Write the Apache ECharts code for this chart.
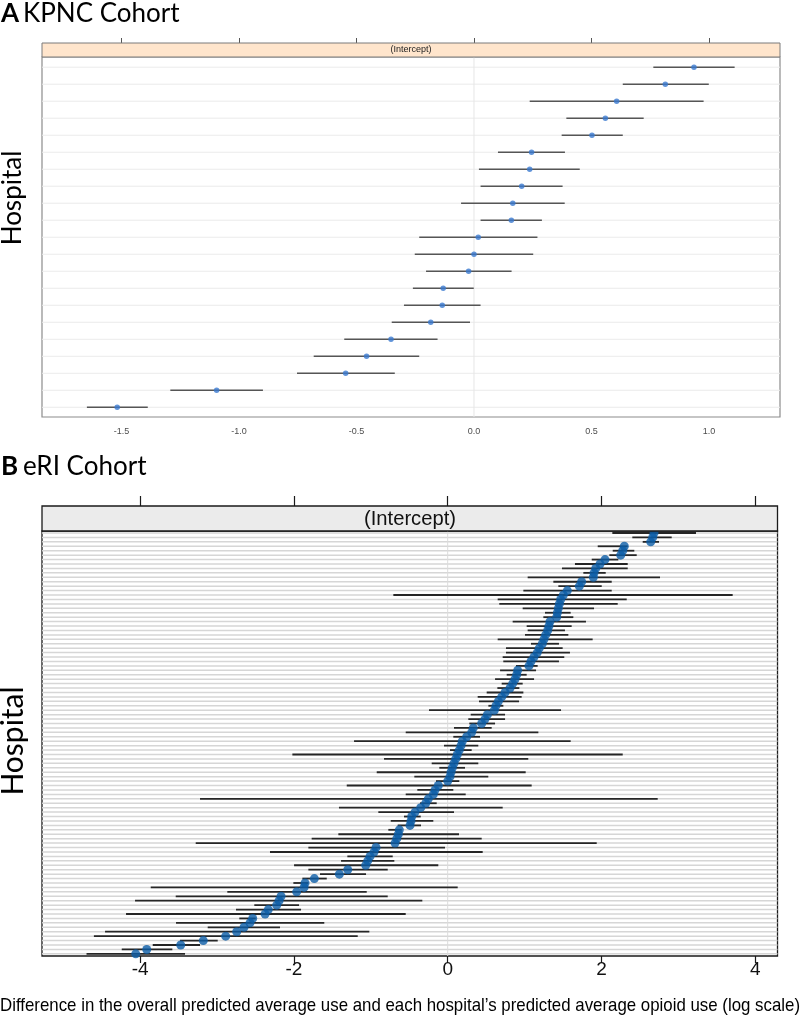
<!DOCTYPE html>
<html><head><meta charset="utf-8">
<script src="https://cdn.jsdelivr.net/npm/echarts@6/dist/echarts.min.js"></script>
<style>html,body{margin:0;padding:0;background:#fff}#c{width:800px;height:1019px}</style>
</head><body><div id="c"></div>
<script>
// Panel A: KPNC cohort (top to bottom)
const kpncEst  = [0.936,0.814,0.607,0.559,0.502,0.245,0.237,0.203,0.165,0.159,0.018,0.000,-0.023,-0.131,-0.135,-0.184,-0.353,-0.457,-0.546,-1.095,-1.518];
const kpncLow  = [0.763,0.633,0.237,0.393,0.373,0.102,0.021,0.028,-0.055,0.028,-0.233,-0.252,-0.204,-0.260,-0.298,-0.350,-0.552,-0.682,-0.753,-1.292,-1.647];
const kpncHigh = [1.109,0.999,0.977,0.722,0.633,0.387,0.450,0.377,0.386,0.289,0.270,0.252,0.160,-0.001,0.028,-0.017,-0.155,-0.233,-0.337,-0.898,-1.388];
const kpncTicks = [-1.5,-1.0,-0.5,0.0,0.5,1.0];

// Panel B: eRI cohort (top to bottom)
const eriEst = [2.683,2.666,2.640,2.297,2.276,2.250,2.046,1.981,1.925,1.903,1.894,1.742,1.712,1.556,1.504,1.469,1.452,1.439,1.426,1.417,
1.330,1.317,1.300,1.274,1.252,1.230,1.191,1.165,1.122,1.083,1.057,0.910,0.897,0.875,0.845,0.811,0.746,0.702,0.659,0.628,
0.607,0.516,0.485,0.442,0.333,0.312,0.247,0.190,0.173,0.151,0.125,0.104,0.082,0.060,0.043,0.030,0.000,-0.122,-0.165,-0.187,
-0.252,-0.286,-0.351,-0.425,-0.468,-0.477,-0.490,-0.629,-0.642,-0.663,-0.685,-0.932,-0.958,-1.010,-1.040,-1.066,-1.300,-1.409,-1.734,-1.855,
-1.868,-1.964,-2.167,-2.193,-2.224,-2.333,-2.375,-2.536,-2.571,-2.649,-2.744,-2.887,-3.178,-3.472,-3.914,-4.057];
const eriLow = [2.141,2.401,2.536,1.951,2.146,2.102,1.873,1.655,1.486,1.764,1.040,1.374,1.439,0.984,-0.707,0.650,0.671,0.975,1.265,1.244,
0.845,1.027,1.040,1.005,0.650,1.083,0.758,0.758,0.715,0.723,0.888,0.681,0.767,0.616,0.702,0.646,0.507,0.390,0.407,0.529,
-0.243,0.299,0.268,0.281,0.082,-0.546,0.073,-1.218,-0.048,0.030,-2.020,-0.828,-0.208,-0.109,-0.923,-0.434,-0.152,-1.313,-0.395,-0.546,
-3.221,-0.360,-1.414,-0.902,-0.568,-0.741,-0.650,-0.772,-1.422,-1.769,-3.277,-1.812,-2.311,-1.305,-1.387,-1.998,-1.812,-1.661,-1.890,-2.007,
-3.862,-2.866,-3.537,-4.066,-2.515,-2.753,-4.183,-2.710,-3.533,-3.121,-4.456,-4.601,-3.481,-3.836,-4.239,-4.697];
const eriHigh = [3.229,2.913,2.748,2.341,2.427,2.458,2.219,2.341,2.341,2.055,2.761,2.133,2.003,2.133,3.706,2.328,2.211,1.903,1.599,1.634,
1.798,1.612,1.525,1.569,1.885,1.447,1.495,1.590,1.516,1.447,1.170,1.149,1.027,1.123,0.975,0.932,0.984,0.962,0.928,0.724,
1.474,0.746,0.746,0.616,0.572,1.179,0.420,1.599,0.398,0.312,2.276,1.048,0.398,0.225,1.014,0.528,0.151,1.092,0.073,0.234,
2.731,-0.143,0.715,0.082,-0.351,-0.187,-0.347,-0.598,0.147,0.442,1.938,-0.035,0.455,-0.715,-0.694,-0.122,-0.780,-1.062,-1.573,-1.812,
0.130,-1.053,-0.780,-0.330,-1.933,-1.907,-0.546,-2.497,-1.605,-2.181,-1.019,-1.170,-2.991,-3.221,-3.581,-3.416];
const eriTicks = [-4,-2,0,2,4];

const SANS = "'Liberation Sans',Arial,sans-serif";
const HUM = "Lato,'Open Sans',sans-serif";
const xTitle = 'Difference in the overall predicted average use and each hospital\u2019s predicted average opioid use (log scale)';

const aYmin = -0.6, aYmax = 20.57;
const bYmin = -0.45, bYmax = 95.48;

const mctx = document.createElement('canvas').getContext('2d');
function fitScale(text, font, target){ mctx.font = font; return target / mctx.measureText(text).width; }

function rows(n){ const r=[]; for(let i=0;i<n;i++) r.push([0,i]); return r; }
function gridItem(color,width){
  return function(params, api){
    const cs = params.coordSys;
    const p = api.coord([api.value(0), api.value(1)]);
    return {type:'line', shape:{x1:cs.x, y1:p[1], x2:cs.x+cs.width, y2:p[1]}, style:{stroke:color, lineWidth:width}};
  };
}
function barItem(color,width){
  return function(params, api){
    const y = api.value(2);
    const p1 = api.coord([api.value(0), y]);
    const p2 = api.coord([api.value(1), y]);
    return {type:'line', shape:{x1:p1[0],y1:p1[1],x2:p2[0],y2:p2[1]}, style:{stroke:color, lineWidth:width}};
  };
}

const titleFont = "19px " + SANS;
const titleScale = fitScale(xTitle, titleFont, 800);
const stripFontB = "20px " + SANS;
const stripScaleB = fitScale('(Intercept)', stripFontB, 92);

const chart = echarts.init(document.getElementById('c'), null, {renderer:'canvas'});
chart.setOption({
  animation:false,
  backgroundColor:'#fff',
  grid:[
    {left:42, top:57, width:738, height:360, show:true, borderColor:'#8c8c8c', borderWidth:1.2, containLabel:false},
    {left:42, top:531, width:735.5, height:425, show:true, borderColor:'#1a1a1a', borderWidth:1.3, containLabel:false}
  ],
  xAxis:[
    {gridIndex:0, type:'value', position:'bottom', min:-1.838, max:1.302,
      axisLine:{show:false, onZero:false}, splitLine:{show:false}, axisTick:{show:false},
      axisLabel:{customValues:kpncTicks, formatter:v=>v.toFixed(1), fontSize:9, color:'#4d4d4d', margin:10, fontFamily:SANS}},
    {gridIndex:0, type:'value', position:'top', offset:14, min:-1.838, max:1.302,
      axisLine:{show:false, onZero:false}, splitLine:{show:false},
      axisTick:{show:true, customValues:kpncTicks, length:5, lineStyle:{color:'#555', width:1}},
      axisLabel:{show:false}},
    {gridIndex:1, type:'value', position:'bottom', min:-5.276, max:4.289,
      axisLine:{show:false, onZero:false}, splitLine:{show:false},
      axisTick:{show:true, customValues:eriTicks, length:7, lineStyle:{color:'#1a1a1a', width:1.2}},
      axisLabel:{customValues:eriTicks, fontSize:19, color:'#111', margin:4, fontFamily:SANS}},
    {gridIndex:1, type:'value', position:'top', offset:25, min:-5.276, max:4.289,
      axisLine:{show:false, onZero:false}, splitLine:{show:false},
      axisTick:{show:true, customValues:eriTicks, length:10, lineStyle:{color:'#1a1a1a', width:1.2}},
      axisLabel:{show:false}}
  ],
  yAxis:[
    {gridIndex:0, type:'value', inverse:true, min:aYmin, max:aYmax, show:false},
    {gridIndex:1, type:'value', inverse:true, min:bYmin, max:bYmax, show:false}
  ],
  series:[
    {type:'custom', xAxisIndex:0, yAxisIndex:0, renderItem:gridItem('#ebebeb',1), data:rows(kpncEst.length), z:1, silent:true},
    {type:'line', xAxisIndex:0, yAxisIndex:0, data:[[0,aYmin],[0,aYmax]], symbol:'none', lineStyle:{color:'#e6e6e6', width:1}, z:2, silent:true},
    {type:'custom', xAxisIndex:0, yAxisIndex:0, renderItem:barItem('#555555',1.5), z:3, silent:true,
      data:kpncEst.map((v,i)=>[kpncLow[i],kpncHigh[i],i]), encode:{x:[0,1], y:2}},
    {type:'scatter', xAxisIndex:0, yAxisIndex:0, symbol:'circle', symbolSize:5.5, itemStyle:{color:'#3a79cf'}, z:4,
      data:kpncEst.map((v,i)=>[v,i])},

    {type:'custom', xAxisIndex:2, yAxisIndex:1, renderItem:gridItem('#d6d6d6',1.5), data:rows(eriEst.length), z:1, silent:true},
    {type:'line', xAxisIndex:2, yAxisIndex:1, data:[[0,bYmin],[0,bYmax]], symbol:'none', lineStyle:{color:'#dcdcdc', width:1}, z:2, silent:true},
    {type:'custom', xAxisIndex:2, yAxisIndex:1, renderItem:barItem('#262626',1.8), z:3, silent:true,
      data:eriEst.map((v,i)=>[eriLow[i],eriHigh[i],i]), encode:{x:[0,1], y:2}},
    {type:'scatter', xAxisIndex:2, yAxisIndex:1, symbol:'circle', symbolSize:9, itemStyle:{color:'#0b5ca6'}, z:4,
      data:eriEst.map((v,i)=>[v,i])}
  ],
  graphic:[
    {type:'rect', shape:{x:42, y:43, width:738, height:14}, style:{fill:'#ffe5cc', stroke:'#7a7a7a', lineWidth:1}, z:10},
    {type:'text', x:411, y:50, style:{text:'(Intercept)', font:"9px "+SANS, fill:'#222', align:'center', verticalAlign:'middle'}, z:11},
    {type:'rect', shape:{x:42, y:506, width:735.5, height:25}, style:{fill:'#ebebeb', stroke:'#1a1a1a', lineWidth:1.3}, z:10},
    {type:'text', x:410, y:519, scaleX:stripScaleB, style:{text:'(Intercept)', font:stripFontB, fill:'#111', align:'center', verticalAlign:'middle'}, z:11},

    {type:'text', x:1, y:14, style:{text:'A', font:"bold 26px "+HUM, fill:'#000', verticalAlign:'middle'}, z:11},
    {type:'text', x:23, y:14, style:{text:'KPNC Cohort', font:"26px "+HUM, fill:'#000', verticalAlign:'middle'}, z:11},
    {type:'text', x:1, y:467, style:{text:'B', font:"bold 26px "+HUM, fill:'#000', verticalAlign:'middle'}, z:11},
    {type:'text', x:23, y:467, style:{text:'eRI Cohort', font:"26px "+HUM, fill:'#000', verticalAlign:'middle'}, z:11},

    {type:'text', x:13, y:198, rotation:Math.PI/2, style:{text:'Hospital', font:"26px "+HUM, fill:'#000', align:'center', verticalAlign:'middle'}, z:11},
    {type:'text', x:13, y:741, rotation:Math.PI/2, style:{text:'Hospital', font:"30px "+HUM, fill:'#000', align:'center', verticalAlign:'middle'}, z:11},

    {type:'text', x:400, y:1006, scaleX:titleScale, style:{text:xTitle, font:titleFont, fill:'#000', align:'center', verticalAlign:'middle'}, z:11}
  ]
});
</script></body></html>
